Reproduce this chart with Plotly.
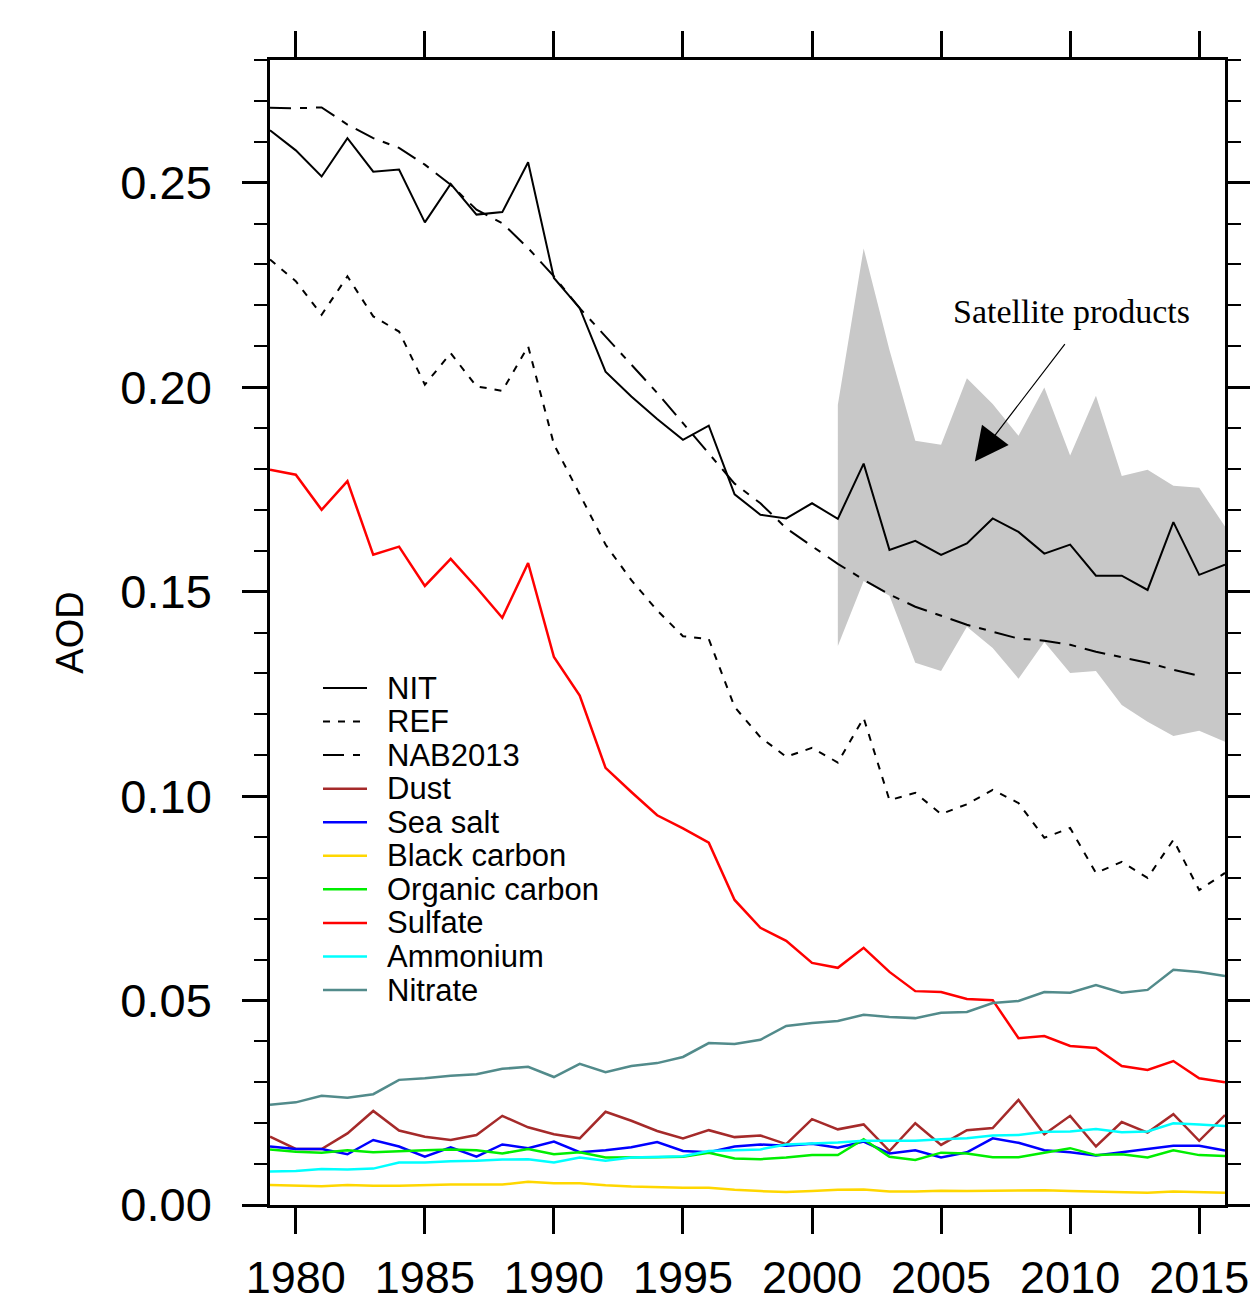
import plotly.graph_objects as go

years = list(range(1979, 2017))

nit = [0.2628, 0.2579, 0.2515, 0.2609, 0.2527, 0.2532, 0.2403, 0.2497, 0.2422, 0.2428,
       0.2550, 0.2267, 0.2193, 0.2038, 0.1977, 0.1922, 0.1871, 0.1906, 0.1738, 0.1688,
       0.1679, 0.1716, 0.1678, 0.1813, 0.1602, 0.1624, 0.1590, 0.1618, 0.1679, 0.1646,
       0.1593, 0.1615, 0.1539, 0.1539, 0.1504, 0.1670, 0.1541, 0.1566]

ref = [0.2312, 0.2259, 0.2177, 0.2271, 0.2173, 0.2136, 0.2006, 0.2083, 0.2002, 0.1991,
       0.2100, 0.1860, 0.1738, 0.1615, 0.1528, 0.1454, 0.1391, 0.1384, 0.1218, 0.1144,
       0.1096, 0.1118, 0.1082, 0.1191, 0.0990, 0.1008, 0.0956, 0.0980, 0.1015, 0.0983,
       0.0898, 0.0922, 0.0812, 0.0839, 0.0800, 0.0893, 0.0770, 0.0812]

nab2013 = [0.2683, 0.2682, 0.2684, 0.2642, 0.2609, 0.2585, 0.2544, 0.2495, 0.2434, 0.2401,
           0.2340, 0.2271, 0.2193, 0.2124, 0.2055, 0.1986, 0.1912, 0.1837, 0.1764, 0.1716,
           0.1655, 0.1611, 0.1568, 0.1529, 0.1493, 0.1463, 0.1441, 0.1419, 0.1402, 0.1385,
           0.1380, 0.1370, 0.1353, 0.1340, 0.1326, 0.1309, 0.1294, None]

dust = [0.0167, 0.0137, 0.0137, 0.0175, 0.0230, 0.0182, 0.0167, 0.0159, 0.0171, 0.0218,
        0.0190, 0.0173, 0.0163, 0.0228, 0.0206, 0.0181, 0.0163, 0.0183, 0.0166, 0.0170,
        0.0149, 0.0210, 0.0185, 0.0197, 0.0132, 0.0200, 0.0147, 0.0183, 0.0188, 0.0257,
        0.0173, 0.0218, 0.0143, 0.0203, 0.0177, 0.0222, 0.0157, 0.0220]

sea_salt = [0.0143, 0.0137, 0.0137, 0.0124, 0.0159, 0.0143, 0.0118, 0.0141, 0.0118, 0.0148,
            0.0139, 0.0155, 0.0129, 0.0134, 0.0141, 0.0154, 0.0132, 0.0129, 0.0143, 0.0148,
            0.0145, 0.0150, 0.0140, 0.0155, 0.0126, 0.0134, 0.0116, 0.0129, 0.0163, 0.0152,
            0.0134, 0.0129, 0.0121, 0.0129, 0.0136, 0.0145, 0.0145, 0.0133]

black_carbon = [0.0049, 0.0047, 0.0046, 0.0049, 0.0047, 0.0047, 0.0049, 0.0050, 0.0050, 0.0050,
                0.0057, 0.0053, 0.0053, 0.0048, 0.0045, 0.0043, 0.0042, 0.0042, 0.0037, 0.0034,
                0.0032, 0.0034, 0.0037, 0.0038, 0.0033, 0.0033, 0.0035, 0.0034, 0.0035, 0.0035,
                0.0036, 0.0034, 0.0033, 0.0032, 0.0030, 0.0033, 0.0032, 0.0030]

organic_carbon = [0.0136, 0.0130, 0.0128, 0.0134, 0.0129, 0.0132, 0.0134, 0.0136, 0.0134, 0.0126,
                  0.0137, 0.0124, 0.0129, 0.0116, 0.0116, 0.0117, 0.0118, 0.0128, 0.0114, 0.0112,
                  0.0116, 0.0122, 0.0122, 0.0161, 0.0118, 0.0110, 0.0128, 0.0126, 0.0117, 0.0117,
                  0.0128, 0.0139, 0.0122, 0.0124, 0.0116, 0.0134, 0.0122, 0.0120]

sulfate = [0.1798, 0.1786, 0.1700, 0.1770, 0.1590, 0.1610, 0.1514, 0.1580, 0.1510, 0.1436,
           0.1570, 0.1340, 0.1246, 0.1069, 0.1010, 0.0953, 0.0921, 0.0886, 0.0746, 0.0678,
           0.0646, 0.0592, 0.0580, 0.0629, 0.0570, 0.0523, 0.0521, 0.0504, 0.0501, 0.0408,
           0.0413, 0.0389, 0.0384, 0.0340, 0.0330, 0.0352, 0.0310, 0.0300]

ammonium = [0.0082, 0.0083, 0.0088, 0.0087, 0.0089, 0.0104, 0.0104, 0.0107, 0.0108, 0.0111,
            0.0112, 0.0104, 0.0116, 0.0108, 0.0116, 0.0118, 0.0119, 0.0132, 0.0134, 0.0136,
            0.0148, 0.0150, 0.0153, 0.0157, 0.0157, 0.0157, 0.0161, 0.0163, 0.0170, 0.0171,
            0.0179, 0.0180, 0.0186, 0.0178, 0.0180, 0.0200, 0.0197, 0.0193]

nitrate = [0.0245, 0.0251, 0.0267, 0.0262, 0.0271, 0.0306, 0.0310, 0.0316, 0.0320, 0.0333,
           0.0338, 0.0313, 0.0345, 0.0325, 0.0340, 0.0347, 0.0362, 0.0396, 0.0394, 0.0404,
           0.0438, 0.0445, 0.0450, 0.0465, 0.0460, 0.0457, 0.0470, 0.0472, 0.0494, 0.0499,
           0.0521, 0.0519, 0.0538, 0.0519, 0.0526, 0.0575, 0.0570, 0.0560]

sat_years = list(range(2001, 2017))
sat_upper = [0.1957, 0.2339, 0.2091, 0.1869, 0.1859, 0.2022, 0.1959, 0.1881,
             0.1999, 0.1833, 0.1979, 0.1783, 0.1798, 0.1759, 0.1754, 0.1659]
sat_lower = [0.1367, 0.1526, 0.1490, 0.1326, 0.1306, 0.1414, 0.1362, 0.1287,
             0.1377, 0.1301, 0.1306, 0.1223, 0.1182, 0.1147, 0.1160, 0.1133]

x_ticks = [1980, 1985, 1990, 1995, 2000, 2005, 2010, 2015]
y_ticks = [0.00, 0.05, 0.10, 0.15, 0.20, 0.25]

series = [
    ("NIT", nit, "black", "solid", 2),
    ("REF", ref, "black", "7px,8px", 2),
    ("NAB2013", nab2013, "black", "21px,9px,7px,9px", 2),
    ("Dust", dust, "#A52A2A", "solid", 2.5),
    ("Sea salt", sea_salt, "#0000FF", "solid", 2.5),
    ("Black carbon", black_carbon, "#FFD700", "solid", 2.5),
    ("Organic carbon", organic_carbon, "#00EE00", "solid", 2.5),
    ("Sulfate", sulfate, "#FF0000", "solid", 2.5),
    ("Ammonium", ammonium, "#00FFFF", "solid", 2.5),
    ("Nitrate", nitrate, "#528B8B", "solid", 2.5),
]

FONT = "Liberation Sans, Arial, sans-serif"

fig = go.Figure()

# satellite range band
fig.add_trace(go.Scatter(
    x=sat_years + sat_years[::-1],
    y=sat_upper + sat_lower[::-1],
    fill="toself", fillcolor="#C8C8C8", mode="lines",
    line=dict(width=0, color="#C8C8C8"), hoverinfo="skip", showlegend=False))

# draw colored components first, black lines on top
order = list(range(3, len(series))) + [0, 1, 2]
for i in order:
    name, vals, color, dash, w = series[i]
    fig.add_trace(go.Scatter(x=years, y=vals, mode="lines", name=name,
                             line=dict(color=color, dash=dash, width=w),
                             showlegend=False))

# custom legend (to reproduce the compact spacing of the original)
W_PLOT, H_PLOT = 955.0, 1145.0
leg_x0, leg_x1, leg_tx = 53.0, 97.0, 115.0   # px from plot left
leg_top, leg_step = 517.0, 33.56             # px from plot bottom
shapes = []
annotations = []
for k, (name, vals, color, dash, w) in enumerate(series):
    yy = (leg_top - k * leg_step) / H_PLOT
    shapes.append(dict(type="line", xref="paper", yref="paper",
                       x0=leg_x0 / W_PLOT, x1=leg_x1 / W_PLOT, y0=yy, y1=yy,
                       line=dict(color=color, width=w, dash=dash)))
    annotations.append(dict(xref="paper", yref="paper", x=leg_tx / W_PLOT, y=yy,
                            text=name, showarrow=False, xanchor="left", yanchor="middle",
                            font=dict(family=FONT, size=31, color="black")))

# Satellite products label and arrow
annotations.append(dict(x=2010.07, y=0.2184, xref="x", yref="y", text="Satellite products",
                        showarrow=False, xanchor="center", yanchor="middle",
                        font=dict(family="Liberation Serif, Times New Roman, serif", size=34,
                                  color="black")))
annotations.append(dict(x=2006.31, y=0.1818, xref="x", yref="y",
                        ax=2009.84, ay=0.2109, axref="x", ayref="y",
                        text="", showarrow=True, arrowhead=2, arrowsize=5.6,
                        arrowwidth=1.2, arrowcolor="black", standoff=0))

fig.update_layout(
    width=1250, height=1303,
    margin=dict(l=270, r=25, t=60, b=98, autoexpand=False),
    paper_bgcolor="white", plot_bgcolor="white",
    showlegend=False,
    shapes=shapes, annotations=annotations,
    xaxis=dict(range=[1979, 2016], tickvals=x_ticks, ticktext=[str(v) for v in x_ticks],
               ticks="outside", ticklen=26, tickwidth=2.5, tickcolor="black",
               showline=True, linewidth=2.5, linecolor="black", mirror="ticks",
               showgrid=False, zeroline=False, ticklabelstandoff=5, automargin=False,
               ticklabeloverflow="allow",
               tickfont=dict(family=FONT, size=45, color="black")),
    yaxis=dict(range=[0, 0.28], tickvals=y_ticks, ticktext=["%.2f" % v for v in y_ticks],
               ticks="outside", ticklen=25, tickwidth=2.5, tickcolor="black",
               minor=dict(dtick=0.01, tick0=0, ticks="outside", ticklen=13,
                          tickwidth=1.5, tickcolor="black"),
               showline=True, linewidth=2.5, linecolor="black", mirror="ticks",
               showgrid=False, zeroline=False, ticklabelstandoff=21, automargin=False,
               ticklabeloverflow="allow",
               title=dict(text="AOD", standoff=26,
                          font=dict(family=FONT, size=38, color="black")),
               tickfont=dict(family=FONT, size=47, color="black")),
)

fig.write_html("out.html")
